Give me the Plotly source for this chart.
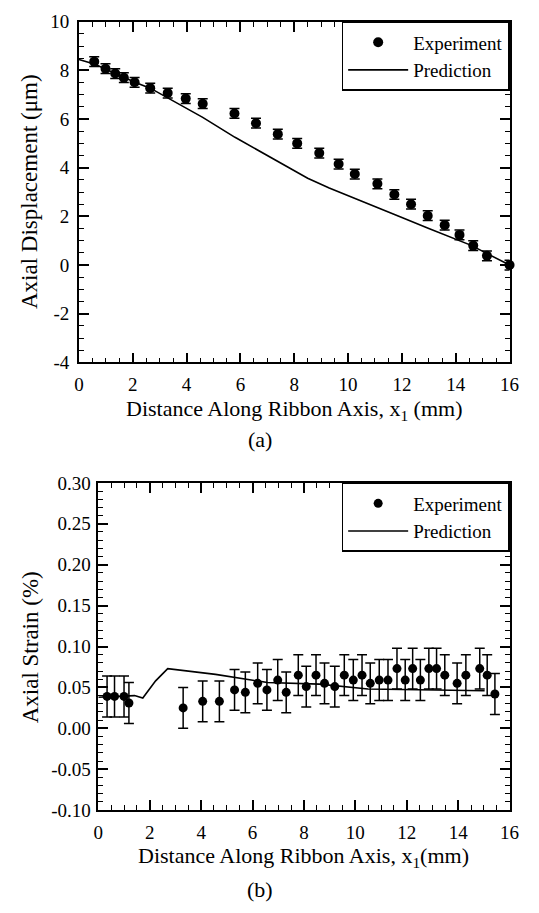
import plotly.graph_objects as go

# ---------------- data: (a) axial displacement ----------------
disp_x = [0.57, 0.99, 1.35, 1.67, 2.07, 2.65, 3.30, 3.97, 4.60, 5.78, 6.58, 7.39, 8.11,
          8.93, 9.65, 10.25, 11.09, 11.72, 12.34, 12.96, 13.59, 14.14, 14.65, 15.16, 16.0]
disp_y = [8.36, 8.07, 7.87, 7.70, 7.51, 7.27, 7.07, 6.84, 6.63, 6.23, 5.83, 5.38, 5.00,
          4.60, 4.15, 3.74, 3.34, 2.90, 2.50, 2.03, 1.64, 1.24, 0.80, 0.38, 0.0]
disp_err = [0.2] * 25

pred_disp_x = [0, 0.6, 1.0, 1.4, 1.7, 2.1, 2.65, 3.3, 4.0, 4.6, 5.8, 6.6, 7.6, 8.5,
               9.3, 10.1, 11.0, 12.0, 13.0, 14.0, 14.6, 15.2, 16.0]
pred_disp_y = [8.45, 8.25, 8.05, 7.85, 7.7, 7.5, 7.27, 6.87, 6.45, 6.07, 5.25, 4.75, 4.14, 3.57,
               3.17, 2.8, 2.4, 1.95, 1.5, 1.05, 0.8, 0.45, 0.0]

disp_yticks = [-4, -2, 0, 2, 4, 6, 8, 10]
disp_yticktext = ["-4", "-2", "0", "2", "4", "6", "8", "10"]

# ---------------- data: (b) axial strain ----------------
strain_x = [0.34, 0.63, 1.00, 1.19, 3.30, 4.06, 4.71, 5.30, 5.72, 6.20, 6.56, 6.98, 7.31,
            7.78, 8.09, 8.47, 8.80, 9.20, 9.57, 9.92, 10.26, 10.58, 10.93, 11.27, 11.62,
            11.94, 12.23, 12.53, 12.86, 13.16, 13.48, 13.96, 14.30, 14.84, 15.13, 15.43]
strain_y = [0.039, 0.039, 0.039, 0.031, 0.025, 0.033, 0.033, 0.047, 0.044, 0.055, 0.047,
            0.059, 0.044, 0.065, 0.051, 0.065, 0.055, 0.051, 0.065, 0.059, 0.065, 0.055,
            0.059, 0.059, 0.073, 0.059, 0.073, 0.059, 0.073, 0.073, 0.065, 0.055, 0.065,
            0.073, 0.065, 0.042]
strain_err = [0.025] * 36

pred_strain_x = [0, 1.41, 1.73, 2.23, 2.70, 4.56, 6.58, 8.6, 10.49, 12.38, 15.03]
pred_strain_y = [0.038, 0.040, 0.037, 0.058, 0.073, 0.066, 0.056, 0.054, 0.048, 0.047, 0.046]

strain_yticks = [-0.10, -0.05, 0.0, 0.05, 0.10, 0.15, 0.20, 0.25, 0.30]
strain_yticktext = ["-0.10", "-0.05", "0.00", "0.05", "0.10", "0.15", "0.20", "0.25", "0.30"]

x_ticks = [0, 2, 4, 6, 8, 10, 12, 14, 16]

# ---------------- layout constants ----------------
W, H = 539, 913
FONT = "Liberation Serif, Times New Roman, serif"


def px(x):
    return x / W


def py(y):
    return 1 - y / H


fig = go.Figure()

fig.add_trace(go.Scatter(
    x=disp_x, y=disp_y, mode="markers", name="Experiment",
    marker=dict(color="black", size=10),
    error_y=dict(type="data", array=disp_err, color="black", thickness=1.5, width=5),
    xaxis="x", yaxis="y", legend="legend", cliponaxis=False, showlegend=False))
fig.add_trace(go.Scatter(
    x=[None], y=[None], mode="markers", name="Experiment",
    marker=dict(color="black", size=10), xaxis="x", yaxis="y", legend="legend"))
fig.add_trace(go.Scatter(
    x=pred_disp_x, y=pred_disp_y, mode="lines", name="Prediction",
    line=dict(color="black", width=1.6), xaxis="x", yaxis="y", legend="legend"))

fig.add_trace(go.Scatter(
    x=strain_x, y=strain_y, mode="markers", name="Experiment",
    marker=dict(color="black", size=9),
    error_y=dict(type="data", array=strain_err, color="black", thickness=1.5, width=5),
    xaxis="x2", yaxis="y2", legend="legend2", cliponaxis=False, showlegend=False))
fig.add_trace(go.Scatter(
    x=[None], y=[None], mode="markers", name="Experiment",
    marker=dict(color="black", size=9), xaxis="x2", yaxis="y2", legend="legend2"))
fig.add_trace(go.Scatter(
    x=pred_strain_x, y=pred_strain_y, mode="lines", name="Prediction",
    line=dict(color="black", width=1.6), xaxis="x2", yaxis="y2", legend="legend2"))

axis_common = dict(
    showline=True, linecolor="black", linewidth=1.6, mirror="allticks",
    ticks="inside", ticklen=10, tickwidth=1.5, tickcolor="black",
    showgrid=False, zeroline=False,
    tickfont=dict(family=FONT, size=19, color="black"),
)

fig.update_layout(
    width=W, height=H,
    margin=dict(l=0, r=0, t=0, b=0),
    paper_bgcolor="white", plot_bgcolor="white",
    font=dict(family=FONT, color="black"),
    xaxis=dict(axis_common, domain=[px(76), px(519)], range=[0, 16],
               tickvals=x_ticks, anchor="y", ticklabelstandoff=4,
               minor=dict(dtick=0.5, tick0=0, ticks="inside", ticklen=5,
                          tickwidth=1.2, tickcolor="black")),
    yaxis=dict(axis_common, domain=[py(360.7), py(12)], range=[-4, 10],
               tickvals=disp_yticks, ticktext=disp_yticktext, anchor="x",
               ticklabelstandoff=4,
               minor=dict(dtick=0.5, tick0=0, ticks="inside", ticklen=5,
                          tickwidth=1.2, tickcolor="black")),
    xaxis2=dict(axis_common, domain=[px(96), px(519)], range=[0, 16],
                tickvals=x_ticks, anchor="y2", ticklabelstandoff=4,
                minor=dict(dtick=0.5, tick0=0, ticks="inside", ticklen=5,
                           tickwidth=1.2, tickcolor="black")),
    yaxis2=dict(axis_common, domain=[py(819), py(484)], range=[-0.1, 0.3],
                tickvals=strain_yticks, ticktext=strain_yticktext, anchor="x2",
                ticklabelstandoff=2,
                minor=dict(dtick=0.01, tick0=0, ticks="inside", ticklen=5,
                           tickwidth=1.2, tickcolor="black")),
    legend=dict(x=px(519), xanchor="right", y=py(12), yanchor="top",
                bgcolor="white", bordercolor="black", borderwidth=1.6,
                font=dict(family=FONT, size=19, color="black"), itemwidth=60,
                tracegroupgap=0),
    legend2=dict(x=px(519), xanchor="right", y=py(484), yanchor="top",
                 bgcolor="white", bordercolor="black", borderwidth=1.6,
                 font=dict(family=FONT, size=19, color="black"), itemwidth=60,
                 tracegroupgap=0),
)

xt_font = dict(family=FONT, size=22, color="black")
yt_font = dict(family=FONT, size=23, color="black")
annotations = [
    dict(text="Axial Displacement (\u03bcm)", x=px(25), y=py(186), textangle=-90, font=yt_font),
    dict(text="Distance Along Ribbon Axis, x<sub>1</sub> (mm)", x=px(297.5), y=py(409),
         font=xt_font),
    dict(text="(a)", x=px(262), y=py(440), font=xt_font),
    dict(text="Axial Strain (%)", x=px(26), y=py(652), textangle=-90, font=yt_font),
    dict(text="Distance Along Ribbon Axis, x<sub>1</sub>(mm)", x=px(307), y=py(867),
         font=xt_font),
    dict(text="(b)", x=px(262), y=py(900), font=xt_font),
]
for a in annotations:
    fig.add_annotation(xref="paper", yref="paper", showarrow=False,
                       xanchor="center", yanchor="middle", **a)

fig.write_html(
    "out.html",
    config={"displayModeBar": False},
    post_script="document.body.style.margin='0';document.body.style.overflow='hidden';",
)
